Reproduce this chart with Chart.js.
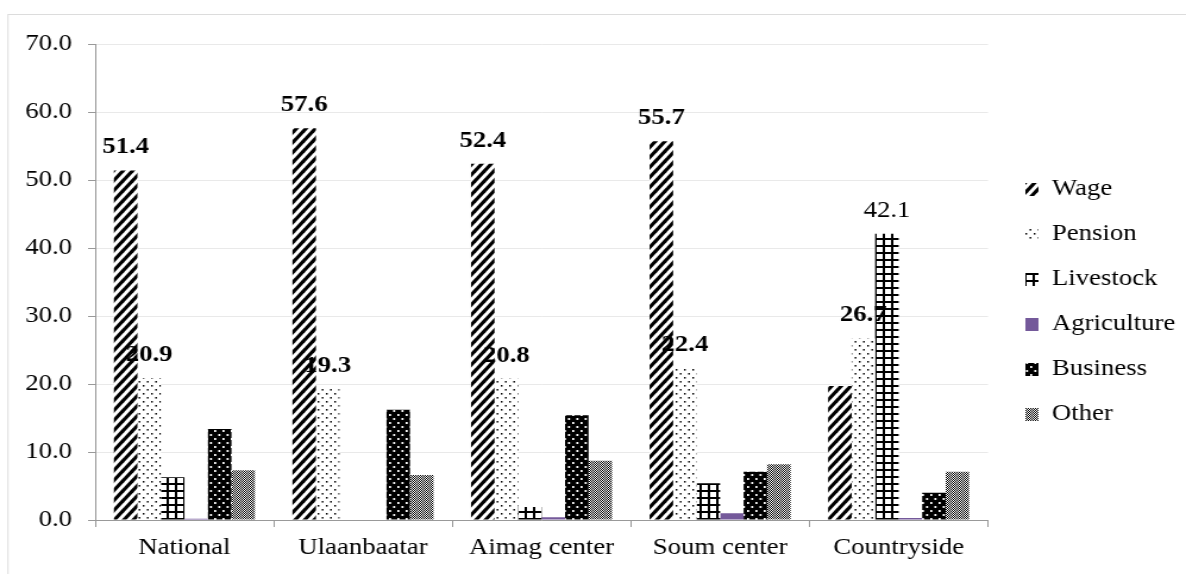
<!DOCTYPE html>
<html>
<head>
<meta charset="utf-8">
<script src="https://cdn.jsdelivr.net/npm/chart.js@4/dist/chart.umd.min.js"></script>
<style>
html,body{margin:0;padding:0;background:#fff;overflow:hidden;}
#wrap{width:997px;height:574px;transform:scaleX(1.18957);transform-origin:0 0;}
</style>
</head>
<body>
<div id="wrap"><canvas id="c" width="997" height="574"></canvas></div>
<script>
// ---- data ----
const categories = ['National', 'Ulaanbaatar', 'Aimag center', 'Soum center', 'Countryside'];
const seriesNames = ['Wage', 'Pension', 'Livestock', 'Agriculture', 'Business', 'Other'];
const wage        = [51.4, 57.6, 52.4, 55.7, 19.7];
const pension     = [20.9, 19.3, 20.8, 22.4, 26.7];
const livestock   = [6.3, 0.0, 1.9, 5.4, 42.1];
const agriculture = [0.2, 0.0, 0.4, 1.0, 0.3];
const business    = [13.4, 16.2, 15.4, 7.1, 4.0];
const other       = [7.3, 6.6, 8.7, 8.2, 7.1];
const yTicks      = [0, 10, 20, 30, 40, 50, 60, 70];
// which values carry a data label
const wageLabelShown      = [true, true, true, true, false];
const pensionLabelShown   = [true, true, true, true, true];
const livestockLabelShown = [false, false, false, false, true];

const FONT = "'Liberation Serif', 'Times New Roman', serif";
const FS = 22.5;

// ---- patterns ----
const helperCtx = document.createElement('canvas').getContext('2d');
function makePattern(w, h, draw) {
  const c = document.createElement('canvas');
  c.width = w; c.height = h;
  const g = c.getContext('2d');
  draw(g, w, h);
  return helperCtx.createPattern(c, 'repeat');
}
const pWage = makePattern(8, 10, (g, w, h) => {
  g.fillStyle = '#fff'; g.fillRect(0, 0, w, h);
  g.strokeStyle = '#000'; g.lineWidth = 3.2;
  for (const k of [-w, 0, w]) {
    g.beginPath(); g.moveTo(k - 1, h + 1.25); g.lineTo(k + w + 1, -1.25); g.stroke();
  }
});
const pPension = makePattern(7, 8, (g, w, h) => {
  g.fillStyle = '#fff'; g.fillRect(0, 0, w, h);
  g.fillStyle = '#000';
  g.fillRect(1, 1, 1.4, 1.6); g.fillRect(4.5, 5, 1.4, 1.6);
});
const pLivestock = makePattern(7, 7, (g, w, h) => {
  g.fillStyle = '#fff'; g.fillRect(0, 0, w, h);
  g.fillStyle = '#000';
  g.fillRect(0, 0, w, 2); g.fillRect(0, 0, 2, h);
});
const cAgriculture = '#74599a';
const pBusiness = makePattern(7, 8, (g, w, h) => {
  g.fillStyle = '#000'; g.fillRect(0, 0, w, h);
  g.fillStyle = '#fff';
  g.fillRect(1.5, 2, 1.7, 2); g.fillRect(5, 6, 1.7, 2);
});
const pOther = makePattern(2, 2, (g, w, h) => {
  g.fillStyle = '#fff'; g.fillRect(0, 0, w, h);
  g.fillStyle = '#000';
  g.fillRect(0, 0, 1, 1); g.fillRect(1, 1, 1, 1);
});

const fills = [pWage, pPension, pLivestock, cAgriculture, pBusiness, pOther];
const values = [wage, pension, livestock, agriculture, business, other];

const datasets = seriesNames.map((name, i) => ({
  label: name,
  data: values[i],
  backgroundColor: fills[i],
  borderWidth: 0,
  categoryPercentage: 0.79,
  barPercentage: 1.0
}));

// ---- plugins ----
const frame = {
  id: 'frame',
  beforeDraw(chart) {
    const ctx = chart.ctx;
    ctx.save();
    ctx.fillStyle = '#fff';
    ctx.fillRect(0, 0, chart.width, chart.height);
    ctx.strokeStyle = '#dcdcdc';
    ctx.lineWidth = 1;
    ctx.strokeRect(6.7, 14.5, chart.width + 20, chart.height + 20);
    ctx.restore();
  }
};

// place the legend block a little right of the plot and let it use the remaining width
const legendNudge = {
  id: 'legendNudge',
  afterLayout(chart) {
    const lg = chart.legend;
    if (!lg) return;
    lg.left += 9;
    lg.right = chart.width;
    lg.width = lg.right - lg.left;
    lg.top -= 7; lg.bottom -= 7;
  }
};

const labelRules = [
  { ds: 0, shown: wageLabelShown, bold: true },
  { ds: 1, shown: pensionLabelShown, bold: true },
  { ds: 2, shown: livestockLabelShown, bold: false }
];
const dataLabels = {
  id: 'dataLabels',
  afterDatasetsDraw(chart) {
    const ctx = chart.ctx;
    ctx.save();
    ctx.textAlign = 'center';
    ctx.textBaseline = 'alphabetic';
    ctx.fillStyle = '#000';
    labelRules.forEach(rule => {
      const meta = chart.getDatasetMeta(rule.ds);
      meta.data.forEach((bar, i) => {
        if (!rule.shown[i]) return;
        ctx.font = (rule.bold ? 'bold ' : '') + FS + 'px ' + FONT;
        const v = chart.data.datasets[rule.ds].data[i];
        ctx.fillText(v.toFixed(1), bar.x, bar.y - 17);
      });
    });
    ctx.restore();
  }
};

new Chart(document.getElementById('c'), {
  type: 'bar',
  data: { labels: categories, datasets },
  options: {
    responsive: false,
    animation: false,
    devicePixelRatio: 1,
    layout: { padding: { top: 44, right: 46.5, bottom: 0, left: 0 } },
    plugins: {
      legend: {
        position: 'right',
        maxWidth: 120,
        labels: {
          font: { family: FONT, size: FS },
          color: '#000',
          boxWidth: 11,
          boxHeight: 13,
          padding: 22.5
        }
      },
      tooltip: { enabled: false }
    },
    scales: {
      x: {
        grid: { display: true, drawOnChartArea: false, drawTicks: true, tickLength: 7, tickColor: '#999', offset: true },
        border: { display: true, color: '#999', width: 1 },
        ticks: { font: { family: FONT, size: FS }, color: '#000', padding: 8 },
        afterFit(scale) { scale.height = 54; }
      },
      y: {
        min: 0,
        max: 70,
        afterBuildTicks(scale) { scale.ticks = yTicks.map(v => ({ value: v })); },
        grid: { color: '#e9e9e9', tickColor: '#999', tickLength: 6, drawTicks: true },
        border: { display: true, color: '#999', width: 1 },
        ticks: {
          font: { family: FONT, size: FS },
          color: '#000',
          padding: 13.5,
          callback: v => Number(v).toFixed(1)
        },
        afterFit(scale) { scale.width = 80; }
      }
    }
  },
  plugins: [frame, legendNudge, dataLabels]
});
</script>
</body>
</html>
